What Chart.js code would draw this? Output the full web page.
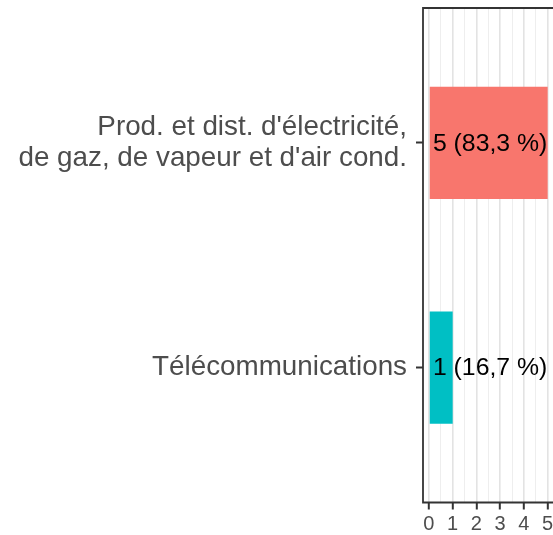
<!DOCTYPE html>
<html>
<head>
<meta charset="utf-8">
<script src="https://cdn.jsdelivr.net/npm/chart.js@4"></script>
<style>
  body { margin: 0; background: #fff; overflow: hidden; }
  canvas { display: block; }
</style>
</head>
<body>
<canvas id="secteurs" width="553" height="535"></canvas>
<script>
// categories, top to bottom
var categories = ["Prod. et dist. d'électricité,\nde gaz, de vapeur et d'air cond.", "Télécommunications"];
var counts = [5, 1];
var barColors = ['#F8766D', '#00BFC4'];
var xTicks = [0, 0.5, 1, 1.5, 2, 2.5, 3, 3.5, 4, 4.5, 5];

var total = counts.reduce(function (a, b) { return a + b; }, 0);
var barLabels = counts.map(function (v) {
    return v + ' (' + (v / total * 100).toFixed(1).replace('.', ',') + ' %)';
});

var isMajor = function (v) { return Math.abs(v - Math.round(v)) < 1e-9; };

// black labels written from the zero line
var barText = {
    id: 'barText',
    afterDatasetsDraw: function (chart) {
        var ctx = chart.ctx;
        var x0 = chart.scales.x.getPixelForValue(0);
        ctx.save();
        ctx.font = '24.8px "Liberation Sans", Arial, sans-serif';
        ctx.fillStyle = '#000';
        ctx.textBaseline = 'middle';
        ctx.textAlign = 'left';
        chart.getDatasetMeta(0).data.forEach(function (el, i) {
            ctx.fillText(barLabels[i], x0 + 4, el.y + 1);
        });
        ctx.restore();
    }
};

// panel border (right side falls outside the picture)
var panelBorder = {
    id: 'panelBorder',
    afterDraw: function (chart) {
        var a = chart.chartArea, ctx = chart.ctx;
        ctx.save();
        ctx.strokeStyle = '#333333';
        ctx.lineWidth = 1.8;
        ctx.beginPath();
        ctx.moveTo(a.right + 2, a.top);
        ctx.lineTo(a.left, a.top);
        ctx.lineTo(a.left, a.bottom);
        ctx.lineTo(a.right + 2, a.bottom);
        ctx.stroke();
        ctx.restore();
    }
};

var ctx = document.getElementById('secteurs').getContext('2d');
var chart = new Chart(ctx, {
    type: 'bar',
    data: {
        datasets: [{
            data: counts.map(function (v, i) { return { x: v, y: i + 1 }; }),
            backgroundColor: barColors,
            borderWidth: 0,
            barPercentage: 0.5,
            categoryPercentage: 1
        }]
    },
    options: {
        indexAxis: 'y',
        responsive: false,
        animation: false,
        layout: { padding: { top: 8, right: 0, left: 0, bottom: 0 } },
        plugins: {
            legend: { display: false },
            tooltip: { enabled: false }
        },
        scales: {
            x: {
                type: 'linear',
                min: -0.25,
                max: 5.225,
                afterBuildTicks: function (scale) {
                    scale.ticks = xTicks.map(function (v) { return { value: v }; });
                },
                afterFit: function (scale) {
                    scale.height = 32.5;
                    scale.paddingLeft = 0;
                    scale.paddingRight = 0;
                },
                border: { display: false },
                grid: {
                    color: function (c) { return isMajor(c.tick.value) ? '#e3e3e3' : '#eeeeee'; },
                    lineWidth: function (c) { return isMajor(c.tick.value) ? 1.6 : 1; },
                    tickColor: function (c) { return isMajor(c.tick.value) ? '#333333' : 'rgba(0,0,0,0)'; },
                    tickLength: 7,
                    tickWidth: 2
                },
                ticks: {
                    autoSkip: false,
                    maxRotation: 0,
                    padding: 3,
                    color: '#4d4d4d',
                    font: { family: '"Liberation Sans", Arial, sans-serif', size: 20 },
                    callback: function (v) { return isMajor(v) ? String(Math.round(v)) : ''; }
                }
            },
            y: {
                type: 'linear',
                min: 0.4,
                max: 2.6,
                reverse: true,
                offset: false,
                afterBuildTicks: function (scale) {
                    scale.ticks = categories.map(function (c, i) { return { value: i + 1 }; });
                },
                afterFit: function (scale) {
                    scale.width = 423;
                    scale.paddingTop = 0;
                    scale.paddingBottom = 0;
                },
                border: { display: false },
                grid: {
                    offset: false,
                    drawOnChartArea: false,
                    drawTicks: true,
                    tickLength: 7,
                    tickWidth: 2,
                    tickColor: '#333333'
                },
                ticks: {
                    padding: 9,
                    color: '#4d4d4d',
                    font: { family: '"Liberation Sans", Arial, sans-serif', size: 27.8, lineHeight: 1.12 },
                    callback: function (v) { return categories[Math.round(v) - 1].split('\n'); }
                }
            }
        }
    },
    plugins: [barText, panelBorder]
});
</script>
</body>
</html>
